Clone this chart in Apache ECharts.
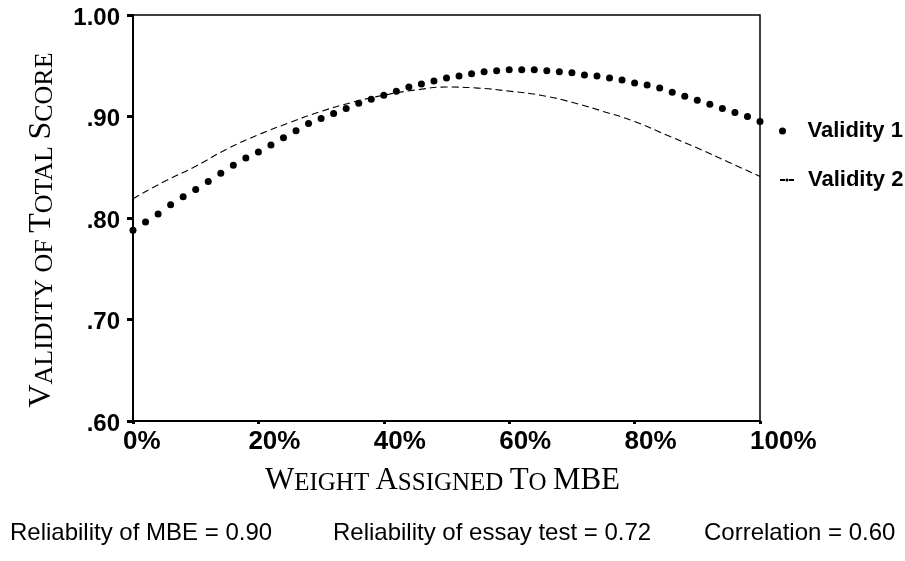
<!DOCTYPE html>
<html>
<head>
<meta charset="utf-8">
<script src="https://cdn.jsdelivr.net/npm/echarts@6/dist/echarts.min.js"></script>
<style>
html,body{margin:0;padding:0;background:#fff;}
#chart{width:905px;height:561px;}
</style>
</head>
<body>
<div id="chart"></div>
<script>
// ---- data ----
var weightV1 = [0,2,4,6,8,10,12,14,16,18,20,22,24,26,28,30,32,34,36,38,40,42,44,46,48,50,52,54,56,58,60,62,64,66,68,70,72,74,76,78,80,82,84,86,88,90,92,94,96,98,100];
var validity1 = [0.788,0.796,0.804,0.813,0.821,0.828,0.836,0.844,0.852,0.859,0.865,0.872,0.879,0.886,0.893,0.898,0.903,0.908,0.913,0.917,0.921,0.925,0.929,0.932,0.935,0.938,0.940,0.942,0.944,0.945,0.946,0.946,0.946,0.945,0.944,0.943,0.941,0.940,0.938,0.936,0.933,0.931,0.928,0.924,0.920,0.916,0.912,0.908,0.904,0.900,0.895];
var weightV2 = [0,5,10,15,20,25,30,35,40,45,50,55,60,65,70,75,80,85,90,95,100];
var validity2 = [0.819,0.836,0.851,0.868,0.882,0.894,0.905,0.914,0.921,0.926,0.929,0.928,0.925,0.921,0.914,0.905,0.895,0.882,0.869,0.855,0.841];
var yTickLabels = ['.60', '.70', '.80', '.90', '1.00'];
var xTickLabels = ['0%', '20%', '40%', '60%', '80%', '100%'];
var seriesNames = ['Validity 1', 'Validity 2'];
var footnotes = ['Reliability of MBE = 0.90', 'Reliability of essay test = 0.72', 'Correlation = 0.60'];

var v1Data = weightV1.map(function (w, i) { return [w, validity1[i]]; });
var v2Data = weightV2.map(function (w, i) { return [w, validity2[i]]; });

var chart = echarts.init(document.getElementById('chart'), null, {renderer: 'canvas'});
var serif = "'Liberation Serif', 'Times New Roman', serif";
var sans = "'Liberation Sans', Arial, sans-serif";
function caps(big, small) {
  return {
    b: {fontFamily: serif, fontSize: big, color: '#000', verticalAlign: 'bottom'},
    s: {fontFamily: serif, fontSize: small, color: '#000', verticalAlign: 'bottom'}
  };
}

var option = {
  backgroundColor: '#fff',
  animation: false,
  grid: {left: 133, right: 145, top: 15, bottom: 140, show: true, borderColor: '#000', borderWidth: 1.5, backgroundColor: 'transparent'},
  legend: [
    {
      data: [{name: seriesNames[0], icon: 'circle'}],
      left: 774, top: 115, itemWidth: 12, itemHeight: 7,
      textStyle: {fontFamily: sans, fontWeight: 'bold', fontSize: 22, color: '#000', padding: [0, 0, 0, 14]}
    },
    {
      data: [{name: seriesNames[1]}],
      left: 774, top: 164, itemWidth: 14, itemHeight: 4,
      lineStyle: {color: '#000', width: 2, type: [5, 4]},
      textStyle: {fontFamily: sans, fontWeight: 'bold', fontSize: 22, color: '#000', padding: [0, 0, 0, 9]}
    }
  ],
  xAxis: {
    type: 'value', min: 0, max: 100, interval: 20,
    name: '{b|W}{s|EIGHT }{b|A}{s|SSIGNED }{b|T}{s|O }{b|MBE}',
    nameLocation: 'middle', nameGap: 44,
    nameTextStyle: {rich: caps(31, 25), padding: [0, 8, 0, 0]},
    axisLine: {show: true, onZero: false, lineStyle: {color: '#000', width: 2}},
    axisTick: {show: true, length: 3, lineStyle: {color: '#000', width: 3}},
    splitLine: {show: false},
    axisLabel: {
      fontFamily: sans, fontWeight: 'bold', fontSize: 26, color: '#000', margin: 8,
      align: 'left', padding: [0, 0, 0, -10],
      formatter: function (v) { return xTickLabels[Math.round(v / 20)]; }
    }
  },
  yAxis: {
    type: 'value', min: 0.6, max: 1.0, interval: 0.1,
    name: '{b|V}{s|ALIDITY OF }{b|T}{s|OTAL }{b|S}{s|CORE}',
    nameLocation: 'middle', nameGap: 75, nameRotate: 90,
    nameTextStyle: {rich: caps(32, 26), padding: [0, 24, 0, 0]},
    axisLine: {show: true, onZero: false, lineStyle: {color: '#000', width: 2}},
    axisTick: {show: true, length: 6, lineStyle: {color: '#000', width: 3}},
    splitLine: {show: false},
    axisLabel: {
      fontFamily: sans, fontWeight: 'bold', fontSize: 24, color: '#000', margin: 13,
      verticalAlign: 'top', padding: [-9, 0, 0, 0],
      formatter: function (v) { return yTickLabels[Math.round((v - 0.6) / 0.1)]; }
    }
  },
  series: [
    {
      name: seriesNames[0], type: 'scatter', data: v1Data, symbol: 'circle', symbolSize: 7,
      clip: false, itemStyle: {color: '#000', opacity: 1}, z: 3
    },
    {
      name: seriesNames[1], type: 'line', data: v2Data, smooth: true, showSymbol: false, symbol: 'none',
      clip: false, lineStyle: {color: '#000', width: 1.1, type: [7, 4]}, itemStyle: {color: '#000'}, z: 2
    }
  ],
  graphic: [
    {type: 'text', left: 10, top: 521, style: {text: footnotes[0], fontFamily: sans, fontSize: 24, fill: '#000'}},
    {type: 'text', left: 333, top: 521, style: {text: footnotes[1], fontFamily: sans, fontSize: 24, fill: '#000'}},
    {type: 'text', left: 704, top: 521, style: {text: footnotes[2], fontFamily: sans, fontSize: 24, fill: '#000'}}
  ]
};
chart.setOption(option);
</script>
</body>
</html>
